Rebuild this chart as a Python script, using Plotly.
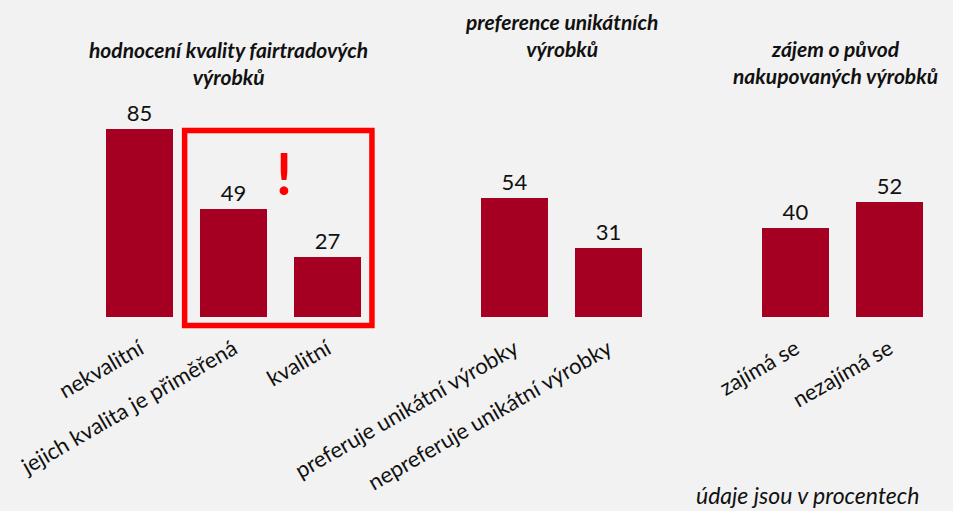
import plotly.graph_objects as go

# ---- data ----
group_titles = [
    "hodnocení kvality fairtradových<br>výrobků",
    "preference unikátních<br>výrobků",
    "zájem o původ<br>nakupovaných výrobků",
]
group_categories = [
    ["nekvalitní", "jejich kvalita je přiměřená", "kvalitní"],
    ["preferuje unikátní výrobky", "nepreferuje unikátní výrobky"],
    ["zajímá se", "nezajímá se"],
]
group_values = [
    [85, 49, 27],
    [54, 31],
    [40, 52],
]
footnote = "údaje jsou v procentech"

BAR_COLOR = "#A50021"
FONT = "Lato"

# positions: one empty slot between groups
positions, cats, vals = [], [], []
pos = 0
for cs, vs in zip(group_categories, group_values):
    for c, v in zip(cs, vs):
        positions.append(pos)
        cats.append(c)
        vals.append(v)
        pos += 1
    pos += 1

fig = go.Figure()
fig.add_trace(go.Bar(
    x=positions, y=vals, width=0.715,
    marker=dict(color=BAR_COLOR, line=dict(width=0)),
    text=[str(v) for v in vals], textposition="outside",
    textfont=dict(family=FONT, size=22, color="#111111"),
    cliponaxis=False, hoverinfo="skip",
))

title_x = [0.1605, 0.5555, 0.881]
title_y = [1.141, 1.262, 1.145]
for t, tx, ty in zip(group_titles, title_x, title_y):
    fig.add_annotation(
        x=tx, y=ty, xref="paper", yref="paper", text="<b><i>" + t + "</i></b>",
        showarrow=False, font=dict(family=FONT, size=21, color="#111111"),
        align="center", xanchor="center", yanchor="middle",
    )

fig.add_annotation(
    x=0.847, y=-0.706, xref="paper", yref="paper", text="<i>" + footnote + "</i>",
    showarrow=False, font=dict(family=FONT, size=23, color="#111111"),
    xanchor="center", yanchor="middle", borderpad=0,
)

# highlight box and exclamation mark
fig.add_shape(type="rect", xref="x", yref="y", x0=0.478, x1=2.478, y0=-3.94, y1=84.4,
              line=dict(color="#FF0000", width=5.5))
fig.add_annotation(
    x=1.535, y=65, xref="x", yref="y", text="<b>!</b>", showarrow=False,
    font=dict(family=FONT, size=57, color="#FF0000"),
    xanchor="center", yanchor="middle",
)

fig.update_layout(
    width=953, height=511,
    margin=dict(l=93, r=17, t=96, b=181),
    paper_bgcolor="#F2F2F2", plot_bgcolor="#F2F2F2",
    showlegend=False, bargap=0,
    font=dict(family=FONT, color="#111111"),
)
fig.update_xaxes(
    range=[-0.5, 8.5], tickmode="array", tickvals=positions, ticktext=cats,
    tickangle=-30, showgrid=False, zeroline=False, showline=False, ticks="",
    tickfont=dict(family=FONT, size=22, color="#111111"),
    ticklabelstandoff=1,
)
fig.update_yaxes(range=[-6, 100], visible=False, showgrid=False, zeroline=False)

fig.write_html(
    "out.html",
    config={"displayModeBar": False},
    post_script="document.body.style.margin='0';document.body.style.overflow='hidden';",
)
